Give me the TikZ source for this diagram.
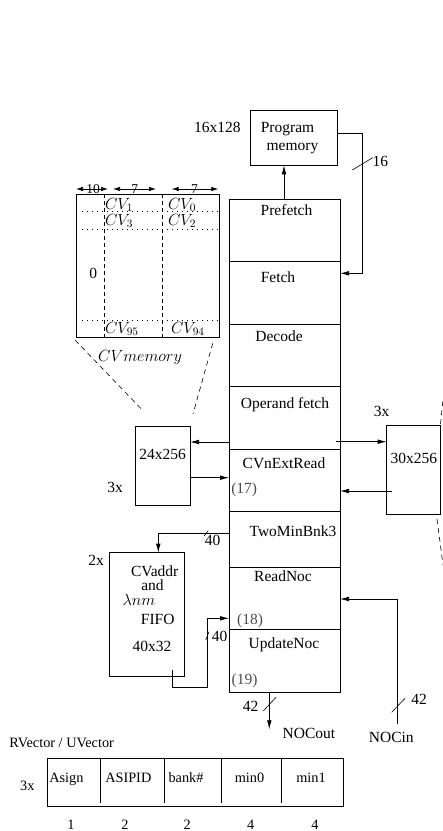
\RequirePackage{fix-cm}
\documentclass[tikz,border=0pt]{standalone}
\usepackage[no-math]{fontspec}
\setmainfont{Liberation Serif}
\usetikzlibrary{arrows.meta}
\begin{document}
\begin{tikzpicture}[x=1pt,y=-1pt,
  every node/.style={inner sep=0pt, outer sep=0pt},
  box/.style={draw, line width=0.7pt, inner sep=0pt},
  stagebox/.style={box, minimum width=111pt},
  lbl/.style={anchor=base, font=\fontsize{15.5}{18}\selectfont},
  mlbl/.style={anchor=base, font=\fontsize{16.2}{19}\selectfont},
  lblsm/.style={anchor=base, font=\fontsize{14.3}{17}\selectfont},
  lbldim/.style={anchor=base, font=\fontsize{13.5}{15}\selectfont},
  numlbl/.style={lbl, text=black!70},
  wire/.style={line width=0.7pt},
  arr/.style={wire, -{Latex[length=9pt,width=4.6pt]}},
  dimarr/.style={line width=0.7pt, {Latex[length=7pt,width=4.5pt]}-{Latex[length=7pt,width=4.5pt]}},
  zoomline/.style={line width=0.6pt, dash pattern=on 5pt off 4pt},
  slash/.style={line width=0.6pt}
]
\useasboundingbox (0,0) rectangle (443,831);

% ---------- pipeline stages ----------
\node[stagebox, minimum height=62pt] (pf) at (284.5,230) {};
\node[stagebox, minimum height=63pt] (fe) at (284.5,292.5) {};
\node[stagebox, minimum height=62pt] (de) at (284.5,355) {};
\node[stagebox, minimum height=63pt] (of) at (284.5,417.5) {};
\node[stagebox, minimum height=62pt] (cv) at (284.5,480) {};
\node[stagebox, minimum height=56pt] (tm) at (284.5,539) {};
\node[stagebox, minimum height=62pt] (rn) at (284.5,598) {};
\node[stagebox, minimum height=63pt] (un) at (284.5,660.5) {};

\node[lbl] (tpf) at (286.5,215.7) {Prefetch};
\node[lbl] (tfe) at (278,282) {Fetch};
\node[lbl] (tde) at (279,341.7) {Decode};
\node[lbl] (tof) at (285,408) {Operand fetch};
\node[lbl] (tcv) at (284,468) {CVnExtRead};
\node[lbl] (ttm) at (293,536) {TwoMinBnk3};
\node[lbl] (trn) at (283,581.7) {ReadNoc};
\node[lbl] (tun) at (284,648) {UpdateNoc};
\node[numlbl] (n17) at (244.2,493) {(17)};
\node[numlbl] (n18) at (250,624) {(18)};
\node[numlbl] (n19) at (244.5,684.3) {(19)};

% ---------- program memory ----------
\node[box, minimum width=87pt, minimum height=54.6pt] (pm) at (294.2,138) {};
\node[lbl] (tpm1) at (287.5,132.3) {Program};
\node[lbl] (tpm2) at (292.5,150) {memory};
\node[lbl, anchor=base east] (t16x128) at (240.7,132.3) {16x128};
\coordinate (pa) at (284,199);
\draw[arr] (pa) -- (pa |- pm.south);
\coordinate (c16) at (362.7,273.3);
\draw[arr] ([yshift=4.3pt]pm.east) -| (c16) -- (c16 -| fe.east);
\draw[slash] (352.3,170) -- (372.7,157.7);
\node[lbl] (t16) at (380.3,166.7) {16};

% ---------- CV memory ----------
\node[box, minimum width=143.3pt, minimum height=143.3pt] (cvm) at (147.65,265.65) {};
\draw[line width=0.6pt, dash pattern=on 4pt off 3pt] (104.3,194) -- (104.3,337.3);
\draw[line width=0.6pt, dash pattern=on 4pt off 3pt] (162.7,194) -- (162.7,337.3);
\draw[line width=0.8pt, dash pattern=on 0.8pt off 4.2pt] (82,211) -- (219.3,211);
\draw[line width=0.8pt, dash pattern=on 0.8pt off 4.2pt] (82,229.3) -- (219.3,229.3);
\draw[line width=0.8pt, dash pattern=on 0.8pt off 4.2pt] (82,320) -- (219.3,320);
\node[mlbl, anchor=base west] (cv1) at (105,209.3) {$CV_1$};
\node[mlbl, anchor=base west] (cv0) at (168,209.3) {$CV_0$};
\node[mlbl, anchor=base west] (cv3) at (105,225) {$CV_3$};
\node[mlbl, anchor=base west] (cv2) at (168,225) {$CV_2$};
\node[mlbl, anchor=base west] (cv95) at (105,333.3) {$CV_{95}$};
\node[mlbl, anchor=base west] (cv94) at (171,333.3) {$CV_{94}$};
\node[lbl] (t0) at (93.3,278.3) {0};
\node[mlbl] (tcvm) at (140,361.7) {$CV memory$};
% dimensions
\coordinate (d1a) at (76,189);   \coordinate (d1b) at (108,189);
\coordinate (d2a) at (113,189);  \coordinate (d2b) at (156,189);
\coordinate (d3a) at (171.7,189);\coordinate (d3b) at (218.3,189);
\draw[dimarr] (d1a) -- (d1b);
\draw[dimarr] (d2a) -- (d2b);
\draw[dimarr] (d3a) -- (d3b);
\node[lbldim] (t10) at (93,193.3) {10};
\node[lbldim] (t7a) at (134.7,193.3) {7};
\node[lbldim] (t7b) at (194.5,193.3) {7};

% ---------- 24x256 ----------
\node[box, minimum width=55pt, minimum height=78.3pt] (m24) at (162.5,465.85) {};
\node[lbl] (t24) at (162.5,459) {24x256};
\node[lbl] (t3xa) at (115,492.3) {3x};
\draw[zoomline] (75,340) -- (143.3,411);
\draw[zoomline] (212.7,343.3) -- (193,414);
\draw[arr] ([yshift=7pt]of.south west) -- ([yshift=7pt]of.south west -| m24.east);
\draw[arr] ([yshift=-11.85pt]m24.east) -- ([yshift=-11.85pt]m24.east -| cv.west);

% ---------- 30x256 ----------
\node[box, minimum width=53.3pt, minimum height=88.3pt] (m30) at (413.35,469.85) {};
\node[lbl] (t30) at (413.8,463.3) {30x256};
\node[lbl] (t3xb) at (381.7,416.7) {3x};
\draw[arr] ([xshift=-4pt,yshift=7.3pt]of.south east) -- ([yshift=7.3pt]of.south east -| m30.west);
\draw[arr] ([xshift=5pt,yshift=-21.15pt]m30.west) -- ([yshift=-21.15pt]m30.west -| cv.east);
\draw[zoomline] (440.5,424) -- (443,400);
\draw[zoomline] (437,519) -- (443,565);

% ---------- FIFO ----------
\node[box, minimum width=75pt, minimum height=123.3pt] (fifo) at (146.8,614.35) {};
\node[lbl] (t2x) at (96,565) {2x};
\node[lbl] (tf1) at (154.7,576) {CVaddr};
\node[lbl] (tf2) at (152.5,590) {and};
\node[mlbl] (tf3) at (139,605) {$\lambda nm$};
\node[lbl] (tf4) at (157.7,624) {FIFO};
\node[lbl] (tf5) at (152,651.7) {40x32};
\draw[arr] ([yshift=5.7pt]tm.west) -| ([xshift=11.5pt]fifo.north);
\draw[slash] (204,536) -- (208.3,530.7);
\node[lbl] (t40a) at (212.7,545.7) {40};
\coordinate (f1) at (172.3,670);
\coordinate (f2) at (207.3,687.7);
\draw[arr] (f1) |- (f2) |- ([yshift=-20.3pt]rn.west);
\draw[slash] (205.7,640) -- (209,631.7);
\node[lbl] (t40b) at (219.7,641.7) {40};

% ---------- NOC ----------
\coordinate (nin) at (397.3,724);
\draw[arr] (nin) |- ([yshift=-1pt]rn.east);
\draw[slash] (391.7,712.3) -- (405,698.3);
\node[lbl] (t42a) at (419,704) {42};
\node[lbl] (tnin) at (391.3,742.7) {NOCin};
\coordinate (nout) at (269.3,729.3);
\draw[arr] ([xshift=-15.2pt]un.south) -- (nout);
\draw[slash] (263.3,711) -- (276,697.3);
\node[lbl] (t42b) at (250.5,711) {42};
\node[lbl] (tnout) at (309,738.3) {NOCout};

% ---------- vector table ----------
\node[lblsm] (trv) at (61.7,747.7) {RVector / UVector};
\node[box, minimum width=296pt, minimum height=47.7pt] (tab) at (195.3,782.15) {};
\foreach \xx in {100.7,164,221.7,281.7} \draw[wire] (\xx,758.3) -- (\xx,802.7);
\node[lblsm] (t3xc) at (27.3,790) {3x};
\node[lblsm, anchor=base west] (c1) at (49.3,782.7) {Asign};
\node[lblsm] (c2) at (128.3,782.7) {ASIPID};
\node[lblsm] (c3) at (186,782.7) {bank\#};
\node[lblsm] (c4) at (249.5,782.7) {min0};
\node[lblsm] (c5) at (311,782.7) {min1};
\node[lblsm] (w1) at (71,829.5) {1};
\node[lblsm] (w2) at (125,829.5) {2};
\node[lblsm] (w3) at (187.3,829.5) {2};
\node[lblsm] (w4) at (250.7,829.5) {4};
\node[lblsm] (w5) at (315,829.5) {4};
\end{tikzpicture}
\end{document}
